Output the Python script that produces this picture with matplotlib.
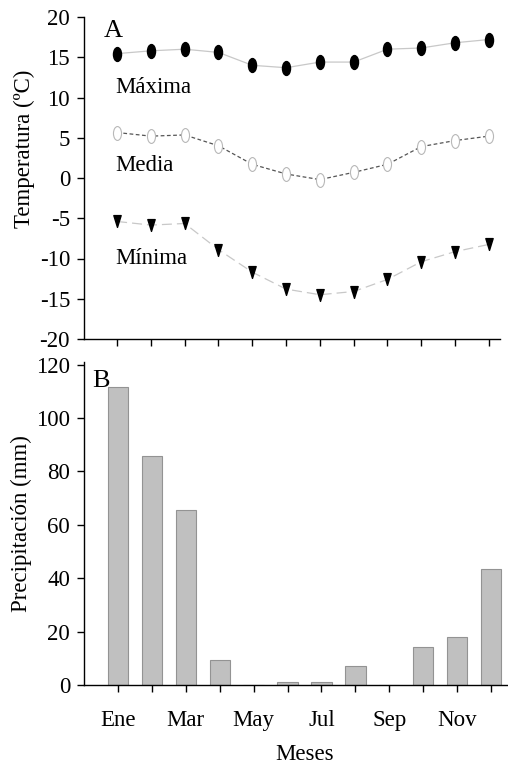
import matplotlib
matplotlib.use('Agg')
import matplotlib.pyplot as plt
from matplotlib.path import Path
from matplotlib.transforms import Affine2D
import numpy as np

meses = np.arange(1, 13)
etiquetas = ["Ene", "", "Mar", "", "May", "", "Jul", "", "Sep", "", "Nov", ""]

t_max = [15.45, 15.8, 16.0, 15.6, 14.0, 13.7, 14.4, 14.4, 16.0, 16.15, 16.8, 17.2]
t_media = [5.65, 5.2, 5.35, 4.0, 1.7, 0.5, -0.2, 0.7, 1.7, 3.9, 4.65, 5.2]
t_min = [-5.4, -5.85, -5.65, -8.9, -11.7, -13.8, -14.5, -14.1, -12.6, -10.4, -9.15, -8.25]

precip = [111.6, 85.8, 65.6, 9.4, 0.0, 1.0, 1.1, 7.1, 0.0, 14.2, 18.0, 43.5]

plt.rcParams['font.family'] = ['Liberation Serif', 'DejaVu Serif']
plt.rcParams['font.size'] = 16.5
plt.rcParams['axes.unicode_minus'] = False

# markers taller than wide, like in the original
elipse = Path.unit_circle().transformed(Affine2D().scale(0.58, 1.0))
triangulo = Path([(-0.62, 1.0), (0.62, 1.0), (0.0, -1.0), (-0.62, 1.0)],
                 [Path.MOVETO, Path.LINETO, Path.LINETO, Path.CLOSEPOLY])

fig = plt.figure(figsize=(5.08, 7.63), dpi=100)
ax1 = fig.add_axes([84/508, 1-339/763, 416/508, 322/763])
ax2 = fig.add_axes([84/508, 1-685/763, 424/508, 323/763])

ax1.plot(meses, t_max, color='#c8c8c8', lw=0.9, marker=elipse, ms=10,
         mfc='black', mec='black', zorder=3)
ax1.plot(meses, t_media, color='#555555', lw=0.9, ls=(0, (3, 2)), marker=elipse, ms=10,
         mfc='white', mec='#b8b8b8', mew=0.8, zorder=3)
ax1.plot(meses, t_min, color='#c8c8c8', lw=0.9, ls=(0, (8, 4)), marker=triangulo, ms=8.5,
         mfc='black', mec='black', zorder=3)

ax1.set_xlim(0.02, 12.33)
ax1.set_ylim(-20, 20)
ax1.set_yticks(np.arange(-20, 21, 5))
ax1.set_xticks(meses)
ax1.set_xticklabels([])
ax1.text(0.048, 0.955, "A", transform=ax1.transAxes, ha='left', va='center', fontsize=19)
ax1.text(0.95, 11.3, "Máxima", ha='left', va='center')
ax1.text(0.95, 1.5, "Media", ha='left', va='center')
ax1.text(0.95, -10.0, "Mínima", ha='left', va='center')

ax2.bar(meses, precip, width=0.6, color='#c0c0c0', edgecolor='#939393', lw=0.8)
ax2.set_xlim(0.0, 12.5)
ax2.set_ylim(0, 121)
ax2.set_yticks(np.arange(0, 121, 20))
ax2.set_xticks(meses)
ax2.set_xticklabels(etiquetas)
ax2.text(0.02, 0.94, "B", transform=ax2.transAxes, ha='left', va='center', fontsize=19)

for ax in (ax1, ax2):
    ax.spines['top'].set_visible(False)
    ax.spines['right'].set_visible(False)
    ax.spines['left'].set_linewidth(1.0)
    ax.spines['bottom'].set_linewidth(1.0)
    ax.tick_params(direction='out', length=5, width=1.0)
    ax.tick_params(axis='y', pad=5)
ax2.tick_params(axis='x', pad=13)

fig.text(24/508, 1-149/763, "Temperatura (ºC)", rotation=90, ha='center', va='center')
fig.text(21/508, 1-524/763, "Precipitación (mm)", rotation=90, ha='center', va='center')
fig.text(305/508, 1-754/763, "Meses", ha='center', va='center')

fig.savefig('out.png', dpi=100)
